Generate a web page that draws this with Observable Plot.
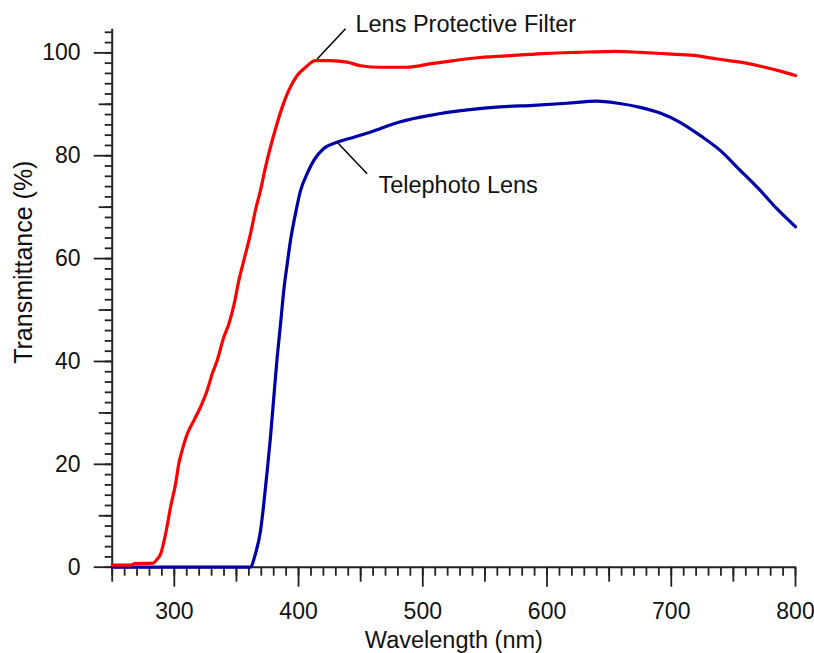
<!DOCTYPE html>
<html>
<head>
<meta charset="utf-8">
<script src="https://cdn.jsdelivr.net/npm/d3@7"></script>
<script src="https://cdn.jsdelivr.net/npm/@observablehq/plot@0.6"></script>
<style>
  html, body { margin: 0; padding: 0; background: #fff; }
  #chart svg { display: block; }
</style>
</head>
<body>
<div id="chart"></div>
<script>
// ---- data ----
const seriesNames = ["Lens Protective Filter", "Telephoto Lens"];

const filterWavelength = [250, 265, 268, 283, 286, 289, 293, 297, 301, 303.6, 306.3, 310.4, 315.7, 321, 326.5, 330.5, 334.5, 339.8, 343.9, 348, 352, 357.3, 361.3, 365.3, 369.4, 373.4, 377.4, 381.9, 386.8, 392.1, 398.9, 405.6, 413.6, 425, 439, 450, 466, 487, 507, 525, 546, 573, 600, 624, 656, 675, 697, 718, 737, 758, 777, 790, 800];
const filterTransmittance = [0.4, 0.4, 0.7, 0.8, 1.5, 2.6, 6.5, 11.7, 16.2, 20.1, 22.7, 25.9, 28.5, 31.1, 34.4, 37.6, 40.2, 44.7, 47.3, 51.0, 55.8, 60.9, 64.8, 69.4, 73.3, 77.8, 81.7, 85.6, 89.4, 92.7, 95.6, 97.2, 98.5, 98.5, 98.2, 97.5, 97.2, 97.2, 97.9, 98.5, 99.1, 99.5, 99.9, 100.1, 100.3, 100.1, 99.8, 99.5, 98.8, 98.1, 97.1, 96.3, 95.6];

const lensWavelength = [250, 300, 361, 365.3, 369.4, 372, 374.8, 377.4, 380.1, 382.8, 385.5, 388.1, 390.9, 393.5, 397.5, 401.6, 406.9, 412.3, 420.3, 431, 444.5, 458, 466, 482, 507, 536, 562, 589, 616, 640, 657, 675, 691, 707, 723.5, 739.6, 755.7, 771.8, 785, 800];
const lensTransmittance = [0, 0, 0, 2.6, 7.1, 12.3, 18.8, 25.3, 33.1, 40.8, 47.3, 53.8, 59.0, 63.5, 68.7, 73.2, 76.5, 79.1, 81.4, 82.6, 83.6, 84.6, 85.3, 86.6, 87.9, 88.9, 89.5, 89.8, 90.2, 90.6, 90.2, 89.4, 88.3, 86.5, 83.9, 81.0, 77.1, 73.2, 69.7, 66.2];

const xMajorTicks = [300, 400, 500, 600, 700, 800];
const xMidTicks = [250, 350, 450, 550, 650, 750];
const xMinorTicks = d3.range(250, 801, 10);
const yMajorTicks = [0, 20, 40, 60, 80, 100];
const yMidTicks = [10, 30, 50, 70, 90];
const yMinorTicks = d3.range(0, 105, 2);

// annotation leader lines (data units) and label anchors
const leaders = [
  {x1: 415, y1: 98.8, x2: 437.8, y2: 104.7},
  {x1: 431.1, y1: 82.6, x2: 455.2, y2: 76.5}
];
const labels = [
  {x: 445.8, y: 105.5, text: seriesNames[0]},
  {x: 464.3, y: 74.3, text: seriesNames[1]}
];

const filterData = filterWavelength.map((w, i) => ({w, t: filterTransmittance[i]}));
const lensData = lensWavelength.map((w, i) => ({w, t: lensTransmittance[i]}));

const axisColor = "#222";
const font = "'Liberation Sans', Arial, Helvetica, sans-serif";

const chart = Plot.plot({
  width: 814,
  height: 653,
  marginLeft: 111.7,
  marginRight: 19,
  marginTop: 28.7,
  marginBottom: 86.3,
  style: {fontFamily: font, fontSize: "23px", background: "#fff", color: "#111", overflow: "visible"},
  x: {domain: [250, 800], label: null},
  y: {domain: [0, 104.6], label: null},
  marks: [
    // x axis ticks
    Plot.axisX(xMinorTicks, {tickSize: 9, tickFormat: () => "", stroke: axisColor, strokeWidth: 1.8, label: null}),
    Plot.axisX(xMidTicks, {tickSize: 15, tickFormat: () => "", stroke: axisColor, strokeWidth: 1.8, label: null}),
    Plot.axisX(xMajorTicks, {tickSize: 20, tickPadding: 15, stroke: axisColor, strokeWidth: 1.8, fill: "#111", fontSize: 23, label: null, tickFormat: d => String(d)}),
    // y axis ticks
    Plot.axisY(yMinorTicks, {tickSize: 7, tickFormat: () => "", stroke: axisColor, strokeWidth: 1.8, label: null}),
    Plot.axisY(yMidTicks, {tickSize: 13, tickFormat: () => "", stroke: axisColor, strokeWidth: 1.8, label: null}),
    Plot.axisY(yMajorTicks, {tickSize: 18, tickPadding: 13.7, stroke: axisColor, strokeWidth: 1.8, fill: "#111", fontSize: 23, label: null, tickFormat: d => String(d)}),
    // axis lines
    Plot.ruleY([0], {stroke: axisColor, strokeWidth: 2}),
    Plot.ruleX([250], {stroke: axisColor, strokeWidth: 2}),
    // series
    Plot.line(lensData, {x: "w", y: "t", stroke: "#0000a8", strokeWidth: 3.2, curve: "monotone-x"}),
    Plot.line(filterData, {x: "w", y: "t", stroke: "#ff0000", strokeWidth: 3.2, curve: "monotone-x"}),
    // annotations
    Plot.link(leaders, {x1: "x1", y1: "y1", x2: "x2", y2: "y2", stroke: "#000", strokeWidth: 1.5}),
    Plot.text(labels, {x: "x", y: "y", text: "text", textAnchor: "start", lineAnchor: "middle", fontSize: 23.5, fill: "#111"}),
    // axis titles
    Plot.text(["Wavelength (nm)"], {frameAnchor: "bottom", dy: 80.5, lineAnchor: "bottom", textAnchor: "middle", fontSize: 23.5, fill: "#111"}),
    Plot.text(["Transmittance (%)"], {frameAnchor: "left", dx: -88, dy: -36, rotate: -90, textAnchor: "middle", lineAnchor: "middle", fontSize: 25, fill: "#111"})
  ]
});

document.getElementById("chart").appendChild(chart);
</script>
</body>
</html>
